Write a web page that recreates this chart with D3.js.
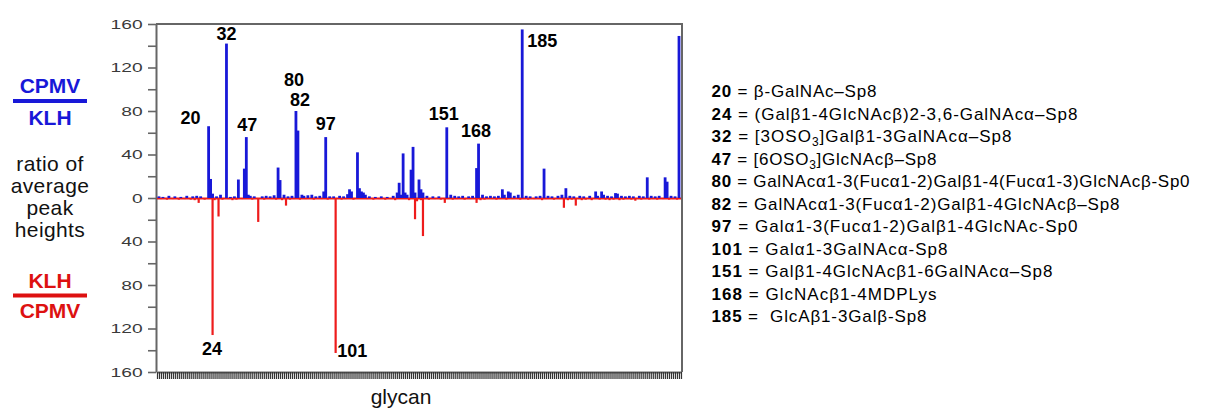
<!DOCTYPE html>
<html>
<head>
<meta charset="utf-8">
<script src="https://cdn.jsdelivr.net/npm/d3@7"></script>
<style>
  html, body { margin: 0; padding: 0; background: #fff; }
  svg { display: block; font-family: "Liberation Sans", Arial, sans-serif; }
</style>
</head>
<body>
<svg id="chart" width="1209" height="410"></svg>
<script>
// ---------------- data ----------------
// glycan slot positions along the x axis (one slot per printed glycan) and ratio values
const slotCount = 264;

// CPMV / KLH ratio (drawn upward, blue)
const blueSlots = [1,3,6,9,12,15,18,20,22,26,27,28,30,32,35,37,39,41,44,45,46,47,49,53,55,57,59,61,62,64,66,68,70,71,73,74,76,78,80,82,84,85,87,89,92,94,96,97,98,101,102,103,104,105,107,110,113,116,119,121,122,123,124,125,126,128,129,130,132,133,134,136,139,142,146,148,150,152,154,157,159,161,162,164,166,168,170,172,174,175,177,178,180,182,184,186,188,191,193,195,197,199,202,204,206,208,210,213,215,218,221,222,224,225,227,229,231,232,234,236,238,240,243,245,247,249,251,253,256,257,259,261,263];
const blueValues = [1.5,1,2,1.5,1,2,1.5,2,1.5,66,17.5,4,1.5,3,142,1,1.5,17,27,56,3,2,1.5,1.5,2,1.5,2.5,28,16.5,3,1.5,2,80,62,3,2,2.5,3,1.5,2,6,56,1.5,1.5,2,1.5,3.5,8,6,42,9,6,5,3,1.5,1,1.5,1,2,5,14,3,41,5,3,26,47,5,17,8,5,2,1.5,1.5,65,3,2,1.5,2,1.5,2,27.5,50,3,1.5,2,1.5,2,8,3,6,5,2,3,155,2,1.5,1.5,2,27,2,1.5,2,3,9,2,1.5,2,1.5,2,6,2,6,3,2,1.5,4.5,4,2,1.5,2,1.5,2,1.5,19,2,1.5,2,19,15,2,1.5,149];

// KLH / CPMV ratio (drawn downward, red)
const redSlots = [2,5,8,11,14,17,19,21,24,28,29,31,33,36,38,40,43,48,51,54,58,60,63,65,67,69,72,75,79,83,86,90,93,95,99,106,109,112,115,118,120,127,130,131,133,134,137,140,143,145,149,151,155,158,161,163,165,169,171,173,176,179,183,185,187,190,194,196,200,203,205,207,209,211,214,216,219,223,226,228,230,233,235,237,239,241,244,246,248,250,252,255,258,260,262];
const redValues = [1,1.5,1,1.5,1,1.5,2,4.5,1.5,126,2,17,1.5,1,2,1.5,1,1.5,22,1.5,1,1.5,2,7,1.5,1,1.5,1,1.5,1,1.5,142.5,1.5,1,1.5,1,1.5,1,1.5,1,2,2,19.5,3,2,35,1.5,1,1.5,4.5,1.5,1,1.5,1,4.5,2,1.5,1,1.5,1,1.5,1,1.5,1,1.5,1,2,1,1.5,1,9,2,1.5,7,2,1.5,2,1.5,1.5,2,1.5,2,1.5,1,1.5,2.5,1.5,1,1.5,1,1.5,1,1.5,1,1.5];

// labelled peaks: glycan number, slot, and signed value of the peak
const peakText  = ["20","32","47","80","82","97","151","168","185","24","101"];
const peakSlot  = [26,35,45,70,71,85,146,162,184,28,90];
const peakValue = [66,142,56,80,80,56,65,50,155,-126,-142.5];

// y-axis ticks
const yTickValues = [-160,-140,-120,-100,-80,-60,-40,-20,0,20,40,60,80,100,120,140,160];
const yTickLabels = ["160","","120","","80","","40","","0","","40","","80","","120","","160"];

// legend
const legendNums = ["20","24","32","47","80","82","97","101","151","168","185"];
const legendNames = [
  "β-GalNAc–Sp8",
  "(Galβ1-4GlcNAcβ)2-3,6-GalNAcα–Sp8",
  "[3OSO_3]Galβ1-3GalNAcα–Sp8",
  "[6OSO_3]GlcNAcβ–Sp8",
  "GalNAcα1-3(Fucα1-2)Galβ1-4(Fucα1-3)GlcNAcβ-Sp0",
  "GalNAcα1-3(Fucα1-2)Galβ1-4GlcNAcβ–Sp8",
  "Galα1-3(Fucα1-2)Galβ1-4GlcNAc-Sp0",
  "Galα1-3GalNAcα-Sp8",
  "Galβ1-4GlcNAcβ1-6GalNAcα–Sp8",
  "GlcNAcβ1-4MDPLys",
  " GlcAβ1-3Galβ-Sp8"
];

// ---------------- drawing ----------------
const BLUE = "#1818d8", RED = "#ee1c1c", AXIS = "#666";
const svg = d3.select("#chart");
const plotL = 156, plotR = 682, plotT = 24, plotB = 372;

const x = d3.scaleLinear().domain([0, slotCount]).range([plotL + 1, plotR - 1]);
const y = d3.scaleLinear().domain([-160, 160]).range([plotB, plotT]);

// frame (top and right)
svg.append("path")
  .attr("d", `M${plotL},${plotT}H${plotR}V${plotB}`)
  .attr("fill", "none").attr("stroke", AXIS).attr("stroke-width", 2);

// x axis: one tick per glycan, no labels
const xAxis = svg.append("g")
  .attr("transform", `translate(0,${plotB})`)
  .call(d3.axisBottom(x).tickValues(d3.range(0, slotCount + 1)).tickSize(7).tickSizeOuter(0).tickFormat(""));
xAxis.select(".domain").attr("stroke", AXIS).attr("stroke-width", 2);
xAxis.selectAll(".tick line").attr("stroke", "#333").attr("stroke-width", 1.2);

// y axis
const yAxis = svg.append("g")
  .attr("transform", `translate(${plotL},0)`)
  .call(d3.axisLeft(y).tickValues(yTickValues).tickSize(8).tickSizeOuter(0)
    .tickFormat((d, i) => yTickLabels[i]));
yAxis.select(".domain").attr("stroke", AXIS).attr("stroke-width", 2);
yAxis.selectAll(".tick line").attr("stroke", AXIS).attr("stroke-width", 1.6);
yAxis.selectAll(".tick text")
  .attr("x", -8.4).attr("dy", "0.36em")
  .attr("transform", "scale(1.6,1)")
  .attr("fill", "#3a3a3a")
  .style("font-size", "12px")
  .style("font-family", "'Liberation Sans', Arial, sans-serif");

// zero line (red)
svg.append("line")
  .attr("x1", plotL + 1).attr("x2", plotR - 1)
  .attr("y1", y(0) + 0.5).attr("y2", y(0) + 0.5)
  .attr("stroke", RED).attr("stroke-width", 2);

// blue bars
svg.append("g").selectAll("rect")
  .data(blueSlots.map((s, i) => ({ s, v: blueValues[i] })))
  .join("rect")
  .attr("x", d => x(d.s) - 1.4).attr("width", 2.8)
  .attr("y", d => y(d.v)).attr("height", d => y(0) - y(d.v))
  .attr("fill", BLUE);

// red bars
svg.append("g").selectAll("rect")
  .data(redSlots.map((s, i) => ({ s, v: redValues[i] })))
  .join("rect")
  .attr("x", d => x(d.s) - 1.1).attr("width", 2.2)
  .attr("y", y(0)).attr("height", d => y(-d.v) - y(0))
  .attr("fill", RED);

// peak labels (offsets in px relative to the peak tip)
const peakOffsets = {
  "20": [-18, -2, "middle"], "32": [0, -4, "middle"], "47": [1, -6, "middle"],
  "80": [-2, -25, "middle"], "82": [2, -5, "middle"], "97": [0, -7, "middle"],
  "151": [-3, -7, "middle"], "168": [-2.5, -6.5, "middle"], "185": [5, 17.5, "start"],
  "24": [-0.5, 20, "middle"], "101": [1.5, 4.5, "start"]
};
svg.append("g").selectAll("text")
  .data(peakText.map((t, i) => ({ t, s: peakSlot[i], v: peakValue[i] })))
  .join("text")
  .attr("x", d => x(d.s) + peakOffsets[d.t][0])
  .attr("y", d => y(d.v) + peakOffsets[d.t][1])
  .attr("text-anchor", d => peakOffsets[d.t][2])
  .style("font-size", "18px").style("font-weight", "bold").attr("fill", "#000")
  .text(d => d.t);

// x axis title
svg.append("text").attr("x", 401).attr("y", 404).attr("text-anchor", "middle")
  .style("font-size", "21px").attr("fill", "#111").text("glycan");

// left side annotation
const ann = svg.append("g");
ann.append("text").attr("x", 50).attr("y", 93).attr("text-anchor", "middle")
  .style("font-size", "21px").style("font-weight", "bold").attr("fill", BLUE).text("CPMV");
ann.append("line").attr("x1", 13).attr("x2", 87).attr("y1", 101).attr("y2", 101)
  .attr("stroke", BLUE).attr("stroke-width", 4);
ann.append("text").attr("x", 50).attr("y", 125).attr("text-anchor", "middle")
  .style("font-size", "21px").style("font-weight", "bold").attr("fill", BLUE).text("KLH");
["ratio of", "average", "peak", "heights"].forEach((t, i) => {
  ann.append("text").attr("x", 50).attr("y", 171 + i * 22).attr("text-anchor", "middle")
    .style("font-size", "21px").style("letter-spacing", "0.4px").attr("fill", "#111").text(t);
});
ann.append("text").attr("x", 50).attr("y", 288).attr("text-anchor", "middle")
  .style("font-size", "21px").style("font-weight", "bold").attr("fill", "#dd1111").text("KLH");
ann.append("line").attr("x1", 13).attr("x2", 87).attr("y1", 295.5).attr("y2", 295.5)
  .attr("stroke", "#dd1111").attr("stroke-width", 4);
ann.append("text").attr("x", 50).attr("y", 318).attr("text-anchor", "middle")
  .style("font-size", "21px").style("font-weight", "bold").attr("fill", "#dd1111").text("CPMV");

// legend (line widths fitted to the reference layout)
const legendWidths = [165, 366, 300, 225, 478, 408, 366, 236, 341, 225, 215];
const leg = svg.append("g").attr("transform", "translate(711.5,0)");
legendNums.forEach((n, i) => {
  const t = leg.append("text").attr("x", 0).attr("y", 97 + i * 22.5)
    .style("font-size", "17px").attr("fill", "#000").style("white-space", "pre")
    .attr("textLength", legendWidths[i]).attr("lengthAdjust", "spacing");
  t.append("tspan").style("font-weight", "bold").text(n);
  t.append("tspan").text(" = ");
  const parts = legendNames[i].split(/_(\d)/);
  let shift = 0;
  parts.forEach((p, k) => {
    if (k % 2 === 1) {
      t.append("tspan").attr("dy", 4).style("font-size", "12px").text(p);
      shift = -4;
    } else if (p.length) {
      const ts = t.append("tspan").text(p);
      if (shift) { ts.attr("dy", shift); shift = 0; }
    }
  });
});
</script>
</body>
</html>
